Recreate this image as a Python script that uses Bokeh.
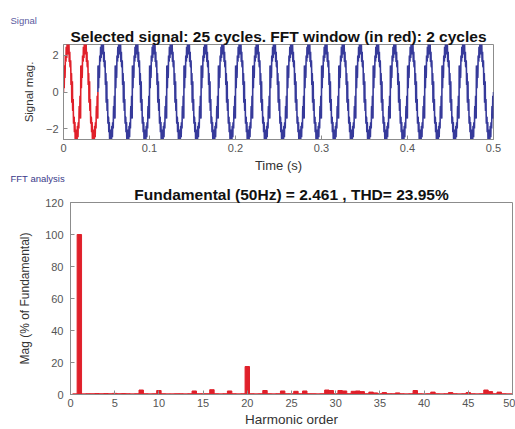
import numpy as np
from bokeh.plotting import figure
from bokeh.models import FixedTicker, ColumnDataSource, Title
from bokeh.embed import file_html
from bokeh.resources import INLINE

# ---------------- data ----------------
fundamental_hz = 50.0
fundamental_mag = 2.461
thd_pct = 23.95
signal_cycles = 25
window_cycles = 2

# spectrum (% of fundamental) at half-harmonic resolution, orders 0 .. 50 step 0.5
harm_order = [i * 0.5 for i in range(101)]
harm_mag = [
    0.0, 0.4, 100.0, 0.4, 0.5, 0.5, 0.6, 0.5, 0.6, 0.5,   # 0 .. 4.5
    0.7, 0.5, 0.6, 0.5, 0.4, 0.5, 2.8, 0.5, 0.4, 0.5,     # 5 .. 9.5
    2.5, 0.5, 0.4, 0.4, 0.5, 0.5, 0.4, 0.5, 2.2, 0.5,     # 10 .. 14.5
    0.5, 0.5, 3.0, 0.5, 0.4, 0.5, 2.2, 0.5, 0.4, 0.5,     # 15 .. 19.5
    17.5, 0.5, 0.4, 0.5, 2.5, 0.5, 0.4, 0.5, 2.2, 0.5,    # 20 .. 24.5
    0.5, 2.0, 0.5, 2.2, 0.5, 0.5, 0.4, 0.5, 2.8, 2.5,     # 25 .. 29.5
    0.5, 2.5, 2.2, 0.5, 2.0, 2.2, 1.8, 0.5, 1.5, 1.0,     # 30 .. 34.5
    0.5, 1.2, 0.5, 0.5, 1.0, 0.5, 0.4, 0.5, 2.5, 0.5,     # 35 .. 39.5
    0.4, 0.5, 1.5, 0.5, 0.4, 0.5, 1.2, 0.5, 0.4, 0.5,     # 40 .. 44.5
    1.2, 0.5, 0.4, 0.5, 2.8, 1.8, 0.5, 1.5, 0.5, 0.4,     # 45 .. 49.5
    0.4,                                                  # 50
]

top_xticks = [0, 0.1, 0.2, 0.3, 0.4, 0.5]
top_yticks = [-2, 0, 2]
bot_xticks = [0, 5, 10, 15, 20, 25, 30, 35, 40, 45, 50]
bot_yticks = [0, 20, 40, 60, 80, 100, 120]

title_top = "Selected signal: 25 cycles. FFT window (in red): 2 cycles"
title_bot = "Fundamental (50Hz) = 2.461 , THD= 23.95%"

# ---------------- time signal rebuilt from the spectrum above ----------------
fs = 20000.0
t_end = signal_cycles / fundamental_hz
t = np.arange(0, t_end + 1 / fs, 1 / fs)
sig = np.zeros_like(t)
for h, m in zip(harm_order, harm_mag):
    if h >= 1 and float(h).is_integer():
        sig += fundamental_mag * m / 100.0 * np.sin(2 * np.pi * fundamental_hz * h * t)
t_win = window_cycles / fundamental_hz
red_mask = t <= t_win
blue_mask = t >= t_win

RED = "#e0202a"
BLUE = "#363a9a"
FONT = "Liberation Sans"
GRAY = "#8c8c8c"
TICKC = "#555555"


def style(p):
    p.outline_line_color = GRAY
    p.background_fill_color = "white"
    p.border_fill_color = "white"
    p.border_fill_alpha = 0.0
    p.grid.visible = False
    for ax in (p.xaxis[0], p.yaxis[0]):
        ax.axis_line_color = GRAY
        ax.major_tick_line_color = GRAY
        ax.major_tick_in = 4
        ax.major_tick_out = 0
        ax.minor_tick_line_color = None
        ax.major_label_text_font = FONT
        ax.major_label_text_font_size = "11px"
        ax.major_label_text_color = TICKC
        ax.axis_label_text_font = FONT
        ax.axis_label_text_font_style = "normal"
        ax.axis_label_text_color = "#333333"
        ax.major_label_standoff = 5


def add_titles(p, main, small, small_offset, small_color):
    tmain = Title(text=main, align="center", text_font=FONT, text_font_size="15.5px",
                  text_font_style="bold", text_color="#111111", standoff=0)
    tsmall = Title(text=small, align="left", offset=small_offset, text_font=FONT,
                   text_font_size="9.5px", text_font_style="normal", text_color=small_color,
                   standoff=0)
    p.add_layout(tmain, "above")
    p.add_layout(tsmall, "above")


# ---------------- top figure: signal ----------------
p1 = figure(width=515, height=175, output_backend="svg", toolbar_location=None,
            x_range=(0, 0.5), y_range=(-2.6, 2.6),
            min_border_left=63, min_border_right=22, min_border_top=44, min_border_bottom=35)
p1.line(t[blue_mask], sig[blue_mask], line_color=BLUE, line_width=1.6)
p1.line(t[red_mask], sig[red_mask], line_color=RED, line_width=1.6)
style(p1)
p1.xaxis.ticker = FixedTicker(ticks=top_xticks)
p1.yaxis.ticker = FixedTicker(ticks=top_yticks)
p1.xaxis.axis_label = "Time (s)"
p1.yaxis.axis_label = "Signal mag."
p1.xaxis.axis_label_text_font_size = "13px"
p1.yaxis.axis_label_text_font_size = "11.5px"
p1.xaxis.major_label_standoff = 4
p1.xaxis.axis_label_standoff = 3
p1.yaxis.axis_label_standoff = 8
add_titles(p1, title_top, "Signal", -53, "#5a5aa0")

# ---------------- bottom figure: FFT ----------------
src = ColumnDataSource(dict(order=harm_order, mag=harm_mag))
p2 = figure(width=515, height=259, output_backend="svg", toolbar_location=None,
            x_range=(0, 50), y_range=(0, 120),
            min_border_left=70, min_border_right=3, min_border_top=27, min_border_bottom=35)
p2.margin = (-5, 0, 0, 0)
p2.vbar(x="order", top="mag", width=0.5, source=src, fill_color=RED, line_color=RED)
style(p2)
p2.xaxis.ticker = FixedTicker(ticks=bot_xticks)
p2.yaxis.ticker = FixedTicker(ticks=bot_yticks)
p2.xaxis.axis_label = "Harmonic order"
p2.yaxis.axis_label = "Mag (% of Fundamental)"
p2.xaxis.axis_label_text_font_size = "13.5px"
p2.yaxis.axis_label_text_font_size = "12px"
p2.xaxis.major_label_standoff = 4
p2.xaxis.axis_label_standoff = 2
p2.yaxis.major_label_standoff = 7
p2.yaxis.axis_label_standoff = 10
add_titles(p2, title_bot, "FFT analysis", -60, "#3a3a8a")

open("out.html", "w").write(file_html([p1, p2], INLINE))
